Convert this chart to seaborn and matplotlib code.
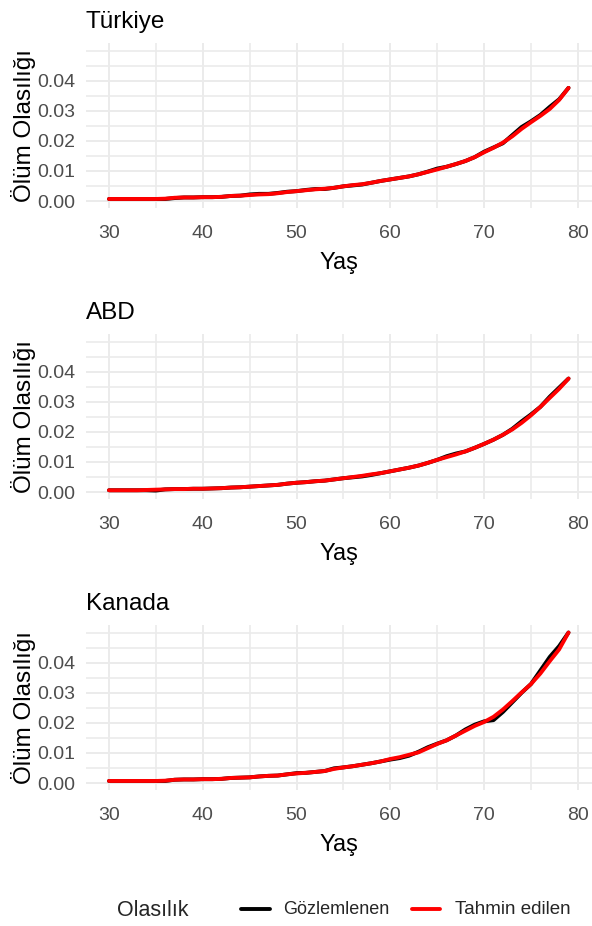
import numpy as np
import pandas as pd
import matplotlib
matplotlib.use("Agg")
import matplotlib.pyplot as plt
from matplotlib.lines import Line2D
from matplotlib.ticker import FixedLocator
import seaborn as sns

# Yaş aralığı
ages = list(range(30, 80))

# Türkiye: gözlemlenen ve tahmin edilen ölüm olasılıkları
tr_observed = [0.0007, 0.0007, 0.0007, 0.0007, 0.0007, 0.0007, 0.0007, 0.0010, 0.0012, 0.0012,
               0.0013, 0.0013, 0.0014, 0.0017, 0.0018, 0.0022, 0.0024, 0.0024, 0.0027, 0.0031,
               0.0033, 0.0037, 0.0040, 0.0040, 0.0044, 0.0049, 0.0052, 0.0055, 0.0061, 0.0067,
               0.0072, 0.0077, 0.0082, 0.0089, 0.0098, 0.0108, 0.0114, 0.0123, 0.0133, 0.0146,
               0.0164, 0.0178, 0.0192, 0.0219, 0.0246, 0.0265, 0.0286, 0.0313, 0.0338, 0.0376]
tr_predicted = [0.0007, 0.0007, 0.0007, 0.0007, 0.0007, 0.0007, 0.0008, 0.0011, 0.0012, 0.0012,
                0.0013, 0.0013, 0.0014, 0.0017, 0.0018, 0.0020, 0.0022, 0.0023, 0.0026, 0.0030,
                0.0033, 0.0036, 0.0039, 0.0041, 0.0044, 0.0049, 0.0053, 0.0056, 0.0061, 0.0067,
                0.0072, 0.0077, 0.0082, 0.0089, 0.0097, 0.0105, 0.0114, 0.0123, 0.0133, 0.0146,
                0.0162, 0.0177, 0.0194, 0.0215, 0.0240, 0.0262, 0.0283, 0.0306, 0.0336, 0.0376]

# ABD
us_observed = [0.0006, 0.0006, 0.0006, 0.0006, 0.0006, 0.0005, 0.0009, 0.0010, 0.0010, 0.0011,
               0.0011, 0.0012, 0.0013, 0.0015, 0.0016, 0.0018, 0.0020, 0.0022, 0.0024, 0.0028,
               0.0031, 0.0033, 0.0036, 0.0038, 0.0042, 0.0046, 0.0049, 0.0052, 0.0057, 0.0063,
               0.0069, 0.0075, 0.0081, 0.0088, 0.0097, 0.0107, 0.0119, 0.0128, 0.0135, 0.0147,
               0.0160, 0.0174, 0.0190, 0.0210, 0.0235, 0.0258, 0.0283, 0.0317, 0.0347, 0.0377]
us_predicted = [0.0006, 0.0006, 0.0006, 0.0006, 0.0007, 0.0008, 0.0009, 0.0010, 0.0010, 0.0011,
                0.0011, 0.0012, 0.0013, 0.0015, 0.0016, 0.0018, 0.0020, 0.0022, 0.0024, 0.0028,
                0.0031, 0.0033, 0.0036, 0.0038, 0.0042, 0.0046, 0.0050, 0.0054, 0.0059, 0.0063,
                0.0069, 0.0075, 0.0081, 0.0088, 0.0097, 0.0107, 0.0116, 0.0125, 0.0135, 0.0147,
                0.0160, 0.0174, 0.0190, 0.0208, 0.0230, 0.0255, 0.0283, 0.0313, 0.0343, 0.0377]

# Kanada
ca_observed = [0.0007, 0.0007, 0.0007, 0.0007, 0.0007, 0.0007, 0.0007, 0.0011, 0.0012, 0.0012,
               0.0013, 0.0013, 0.0014, 0.0017, 0.0018, 0.0019, 0.0022, 0.0024, 0.0025, 0.0029,
               0.0033, 0.0034, 0.0037, 0.0040, 0.0049, 0.0052, 0.0056, 0.0061, 0.0066, 0.0072,
               0.0078, 0.0083, 0.0091, 0.0104, 0.0119, 0.0131, 0.0142, 0.0158, 0.0178, 0.0194,
               0.0205, 0.0209, 0.0236, 0.0268, 0.0300, 0.0329, 0.0374, 0.0419, 0.0455, 0.0500]
ca_predicted = [0.0007, 0.0007, 0.0007, 0.0007, 0.0007, 0.0007, 0.0008, 0.0011, 0.0012, 0.0012,
                0.0013, 0.0013, 0.0014, 0.0017, 0.0018, 0.0019, 0.0022, 0.0024, 0.0025, 0.0029,
                0.0032, 0.0034, 0.0037, 0.0040, 0.0047, 0.0052, 0.0056, 0.0061, 0.0066, 0.0072,
                0.0080, 0.0086, 0.0094, 0.0102, 0.0116, 0.0130, 0.0142, 0.0158, 0.0174, 0.0190,
                0.0203, 0.0220, 0.0244, 0.0272, 0.0301, 0.0329, 0.0364, 0.0405, 0.0444, 0.0500]

countries = ["Türkiye", "ABD", "Kanada"]
series = {
    "Türkiye": (tr_observed, tr_predicted),
    "ABD": (us_observed, us_predicted),
    "Kanada": (ca_observed, ca_predicted),
}
labels = ["Gözlemlenen", "Tahmin edilen"]
palette = {"Gözlemlenen": "black", "Tahmin edilen": "red"}

y_ticks = [0.00, 0.01, 0.02, 0.03, 0.04]
x_ticks = [30, 40, 50, 60, 70, 80]

sns.set_theme(style="white")
plt.rcParams["font.family"] = ["Liberation Sans", "DejaVu Sans"]

W, H = 592, 926
fig = plt.figure(figsize=(W / 100, H / 100), dpi=100)

panel_left, panel_right = 86, 591.5
panel_tops = [43, 334, 625]
panel_h = 165
grid_color = "#ebebeb"
line_w = 2.8

for country, top in zip(countries, panel_tops):
    obs, pred = series[country]
    df = pd.DataFrame({
        "Yaş": ages * 2,
        "Olasılık": [labels[0]] * len(ages) + [labels[1]] * len(ages),
        "Ölüm Olasılığı": list(obs) + list(pred),
    })
    ax = fig.add_axes([panel_left / W, 1 - (top + panel_h) / H,
                       (panel_right - panel_left) / W, panel_h / H])
    sns.lineplot(data=df, x="Yaş", y="Ölüm Olasılığı", hue="Olasılık",
                 hue_order=labels, palette=palette, linewidth=line_w,
                 legend=False, ax=ax)
    ax.set_xlim(27.55, 81.45)
    ax.set_ylim(-0.0023, 0.0525)
    ax.xaxis.set_major_locator(FixedLocator(x_ticks))
    ax.xaxis.set_minor_locator(FixedLocator([35, 45, 55, 65, 75]))
    ax.yaxis.set_major_locator(FixedLocator(y_ticks))
    ax.yaxis.set_minor_locator(FixedLocator([0.005, 0.015, 0.025, 0.035, 0.045, 0.05]))
    ax.set_yticklabels([f"{v:.2f}" for v in y_ticks])
    ax.grid(which="major", color=grid_color, linewidth=1.4)
    ax.grid(which="minor", color=grid_color, linewidth=1.2)
    ax.set_axisbelow(True)
    for s in ax.spines.values():
        s.set_visible(False)
    ax.tick_params(axis="both", which="both", length=0, labelsize=14,
                   labelcolor="#4d4d4d")
    ax.tick_params(axis="x", pad=12)
    ax.tick_params(axis="y", pad=8)
    ax.set_xlabel("")
    ax.set_ylabel("")

    # Başlık ve eksen adları
    fig.text(86 / W, 1 - (top - 15) / H, country, fontsize=17.5,
             ha="left", va="baseline", color="black")
    fig.text((panel_left + panel_right) / 2 / W, 1 - (top + 226) / H, "Yaş",
             fontsize=17, ha="center", va="baseline", color="black")
    fig.text(24 / W, 1 - (top + panel_h / 2) / H, "Ölüm Olasılığı",
             fontsize=17.5, rotation=90, ha="center", va="center", color="black")

# Gösterge
ly = 1 - 910 / H
fig.text(117 / W, ly, "Olasılık", fontsize=15.5, ha="left", va="center")
fig.add_artist(Line2D([241 / W, 270 / W], [ly + 1 / H, ly + 1 / H],
                      color=palette[labels[0]], linewidth=line_w))
fig.text(283 / W, ly, labels[0], fontsize=13, ha="left", va="center")
fig.add_artist(Line2D([412 / W, 440 / W], [ly + 1 / H, ly + 1 / H],
                      color=palette[labels[1]], linewidth=line_w))
fig.text(455 / W, ly, labels[1], fontsize=13.5, ha="left", va="center")

fig.savefig("out.png", dpi=100)
